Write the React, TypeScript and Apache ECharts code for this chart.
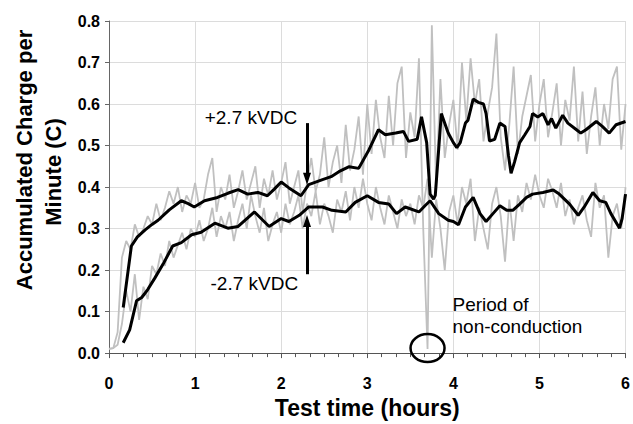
import React, { useEffect, useRef } from "react";
import * as echarts from "echarts";

const FONT = "'Liberation Sans', Arial, Helvetica, sans-serif";

// axis ticks
const X_TICKS = [0, 1, 2, 3, 4, 5, 6];
const Y_TICKS = [0, 0.1, 0.2, 0.3, 0.4, 0.5, 0.6, 0.7, 0.8];

// raw (gray) readings: sampled every 0.05 h (3 minutes)
const GRAY_TIME = Array.from({ length: 121 }, (_, i) => Math.round(i * 5) / 100);

const RAW_POS = [
  0.010, 0.012, 0.05, 0.23, 0.27, 0.25, 0.31, 0.28, 0.30, 0.33,
  0.31, 0.36, 0.32, 0.35, 0.39, 0.36, 0.40, 0.34, 0.38, 0.36,
  0.41, 0.35, 0.37, 0.43, 0.47, 0.34, 0.40, 0.37, 0.43, 0.35,
  0.39, 0.44, 0.37, 0.41, 0.45, 0.35, 0.42, 0.38, 0.44, 0.37,
  0.41, 0.46, 0.36, 0.40, 0.44, 0.34, 0.41, 0.47, 0.39, 0.43,
  0.52, 0.40, 0.46, 0.50, 0.41, 0.55, 0.44, 0.49, 0.57, 0.43,
  0.60, 0.48, 0.61, 0.52, 0.47, 0.62, 0.50, 0.65, 0.69, 0.47,
  0.58, 0.52, 0.71, 0.30, 0.01, 0.79, 0.40, 0.66, 0.47, 0.55,
  0.61, 0.49, 0.70, 0.56, 0.71, 0.60, 0.66, 0.51, 0.58, 0.64,
  0.77, 0.52, 0.44, 0.55, 0.69, 0.48, 0.57, 0.62, 0.67, 0.51,
  0.60, 0.66, 0.52, 0.58, 0.65, 0.50, 0.61, 0.56, 0.69, 0.51,
  0.63, 0.48, 0.57, 0.64, 0.50, 0.60, 0.54, 0.66, 0.69, 0.49,
  0.60,
];

const RAW_NEG = [
  0.010, 0.012, 0.02, 0.07, 0.15, 0.10, 0.19, 0.08, 0.16, 0.13,
  0.21, 0.19, 0.24, 0.21, 0.27, 0.23, 0.26, 0.29, 0.25, 0.30,
  0.28, 0.32, 0.27, 0.30, 0.35, 0.28, 0.33, 0.30, 0.34, 0.27,
  0.32, 0.36, 0.30, 0.38, 0.33, 0.29, 0.35, 0.27, 0.31, 0.34,
  0.29, 0.36, 0.31, 0.34, 0.38, 0.30, 0.36, 0.33, 0.39, 0.31,
  0.36, 0.33, 0.29, 0.37, 0.34, 0.39, 0.32, 0.40, 0.35, 0.42,
  0.36, 0.32, 0.40, 0.35, 0.31, 0.38, 0.34, 0.30, 0.37, 0.33,
  0.36, 0.31, 0.38, 0.35, 0.42, 0.23, 0.37, 0.30, 0.20, 0.34,
  0.38, 0.31, 0.40, 0.36, 0.42, 0.27, 0.35, 0.30, 0.25, 0.36,
  0.40, 0.33, 0.22, 0.37, 0.27, 0.38, 0.34, 0.41, 0.37, 0.43,
  0.38, 0.35, 0.42, 0.39, 0.35, 0.41, 0.33, 0.37, 0.31, 0.35,
  0.38, 0.32, 0.28, 0.41, 0.35, 0.38, 0.23, 0.33, 0.36, 0.30,
  0.40,
];

// smoothed (black) curves
const POS_T = [
  0.165, 0.26, 0.33, 0.42, 0.50, 0.57, 0.70, 0.84, 0.92, 0.99,
  1.11, 1.26, 1.38, 1.50, 1.61, 1.73, 1.84, 1.92, 2.00, 2.09,
  2.23, 2.32, 2.48, 2.58, 2.67, 2.79, 2.90, 3.02, 3.13, 3.21,
  3.33, 3.42, 3.48, 3.58, 3.63, 3.69, 3.73, 3.77, 3.79, 3.86,
  3.94, 4.00, 4.04, 4.08, 4.14, 4.17, 4.23, 4.29, 4.35, 4.38,
  4.42, 4.48, 4.54, 4.60, 4.64, 4.67, 4.71, 4.77, 4.83, 4.89,
  4.92, 4.98, 5.04, 5.10, 5.14, 5.19, 5.27, 5.33, 5.43, 5.48,
  5.54, 5.66, 5.73, 5.81, 5.89, 6.00,
];
const POS_V = [
  0.110, 0.258, 0.280, 0.297, 0.310, 0.320, 0.345, 0.367, 0.360, 0.352,
  0.367, 0.375, 0.385, 0.394, 0.383, 0.387, 0.379, 0.395, 0.412, 0.398,
  0.379, 0.406, 0.418, 0.425, 0.437, 0.449, 0.445, 0.490, 0.538, 0.526,
  0.530, 0.534, 0.510, 0.515, 0.569, 0.507, 0.383, 0.371, 0.380, 0.577,
  0.530, 0.507, 0.495, 0.507, 0.554, 0.561, 0.612, 0.604, 0.600, 0.577,
  0.511, 0.515, 0.554, 0.546, 0.476, 0.433, 0.460, 0.507, 0.526, 0.546,
  0.577, 0.569, 0.577, 0.550, 0.565, 0.542, 0.573, 0.554, 0.538, 0.530,
  0.538, 0.558, 0.546, 0.530, 0.550, 0.558,
];

const NEG_T = [
  0.165, 0.24, 0.32, 0.38, 0.45, 0.53, 0.63, 0.74, 0.84, 0.96,
  1.07, 1.23, 1.38, 1.50, 1.69, 1.86, 2.00, 2.09, 2.21, 2.32,
  2.48, 2.59, 2.75, 2.86, 3.00, 3.13, 3.25, 3.34, 3.44, 3.60,
  3.67, 3.73, 3.83, 3.94, 4.00, 4.06, 4.14, 4.23, 4.31, 4.38,
  4.46, 4.54, 4.62, 4.69, 4.77, 4.85, 4.92, 5.04, 5.16, 5.23,
  5.35, 5.45, 5.52, 5.62, 5.70, 5.77, 5.83, 5.93, 5.96, 6.00,
];
const NEG_V = [
  0.025, 0.056, 0.126, 0.134, 0.153, 0.180, 0.215, 0.258, 0.266, 0.285,
  0.291, 0.313, 0.301, 0.305, 0.340, 0.305, 0.324, 0.317, 0.332, 0.352,
  0.352, 0.344, 0.340, 0.363, 0.379, 0.363, 0.359, 0.336, 0.352, 0.340,
  0.355, 0.367, 0.336, 0.320, 0.317, 0.309, 0.352, 0.375, 0.336, 0.317,
  0.336, 0.355, 0.344, 0.344, 0.359, 0.375, 0.383, 0.387, 0.393, 0.383,
  0.359, 0.332, 0.352, 0.387, 0.367, 0.363, 0.336, 0.301, 0.324, 0.383,
];

// annotation anchors (data coordinates)
const ARROW_X = 2.3;
const POS_ARROW = [0.554, 0.42];
const NEG_ARROW = [0.19, 0.318];
const POS_LABEL = "+2.7 kVDC";
const NEG_LABEL = "-2.7 kVDC";
const NOTE_LINES = ["Period of", "non-conduction"];
const CIRCLE_AT = [3.7, 0.012];

export default function App() {
  const ref = useRef<HTMLDivElement>(null);

  useEffect(() => {
    if (!ref.current) return;
    const chart = echarts.init(ref.current, null, { renderer: "svg" });

    const gray = (vals: number[]) => GRAY_TIME.map((t, i) => [t, vals[i]]);
    const pair = (ts: number[], vs: number[]) => ts.map((t, i) => [t, vs[i]]);

    chart.setOption({
      animation: false,
      grid: { left: 109, right: 5, top: 21, bottom: 60 },
      xAxis: {
        type: "value",
        min: X_TICKS[0],
        max: X_TICKS[X_TICKS.length - 1],
        interval: 1,
        axisLine: { show: true, lineStyle: { color: "#555", width: 1 } },
        axisTick: { show: true, length: 5, lineStyle: { color: "#555" } },
        minorTick: { show: true, splitNumber: 6, length: 4, lineStyle: { color: "#555" } },
        splitLine: { show: true, lineStyle: { color: "#dcdcdc", width: 1 } },
        axisLabel: { fontFamily: FONT, fontWeight: "bold", fontSize: 16, color: "#000", margin: 22 },
        name: "Test time (hours)",
        nameLocation: "middle",
        nameGap: 33,
        nameTextStyle: { fontFamily: FONT, fontWeight: "bold", fontSize: 23, color: "#000" },
      },
      yAxis: {
        type: "value",
        min: Y_TICKS[0],
        max: Y_TICKS[Y_TICKS.length - 1],
        interval: 0.1,
        axisLine: { show: true, lineStyle: { color: "#666", width: 1 } },
        axisTick: { show: true, length: 4, lineStyle: { color: "#666" } },
        splitLine: { show: true, lineStyle: { color: "#dcdcdc", width: 1 } },
        axisLabel: {
          fontFamily: FONT,
          fontWeight: "bold",
          fontSize: 16,
          color: "#000",
          margin: 9,
          formatter: (v: number) => v.toFixed(1),
        },
      },
      series: [
        {
          type: "line",
          data: gray(RAW_POS),
          showSymbol: false,
          lineStyle: { color: "#c0c0c0", width: 1.8 },
          z: 1,
        },
        {
          type: "line",
          data: gray(RAW_NEG),
          showSymbol: false,
          lineStyle: { color: "#c0c0c0", width: 1.8 },
          z: 1,
        },
        {
          type: "line",
          data: pair(NEG_T, NEG_V),
          showSymbol: false,
          lineStyle: { color: "#000", width: 3 },
          z: 3,
        },
        {
          type: "line",
          data: pair(POS_T, POS_V),
          showSymbol: false,
          lineStyle: { color: "#000", width: 3 },
          z: 3,
          markLine: {
            silent: true,
            symbol: ["none", "triangle"],
            symbolSize: [8, 12],
            label: { show: false },
            lineStyle: { color: "#000", width: 3, type: "solid" },
            data: [
              [{ coord: [ARROW_X, POS_ARROW[0]] }, { coord: [ARROW_X, POS_ARROW[1]] }],
              [{ coord: [ARROW_X, NEG_ARROW[0]] }, { coord: [ARROW_X, NEG_ARROW[1]] }],
            ],
          },
        },
      ],
    });

    const px = (x: number, y: number) =>
      chart.convertToPixel({ xAxisIndex: 0, yAxisIndex: 0 }, [x, y]) as number[];

    const posLab = px(2.185, 0.567);
    const negLab = px(2.197, 0.167);
    const note1 = px(3.99, 0.118);
    const note2 = px(3.99, 0.063);
    const circ = px(CIRCLE_AT[0], CIRCLE_AT[1]);

    chart.setOption({
      graphic: [
        {
          type: "text",
          x: 24,
          y: 160,
          rotation: Math.PI / 2,
          style: {
            text: "Accumulated Charge per",
            font: `bold 22px ${FONT}`,
            fill: "#000",
            align: "center",
            verticalAlign: "middle",
          },
        },
        {
          type: "text",
          x: 53,
          y: 172,
          rotation: Math.PI / 2,
          style: {
            text: "Minute (C)",
            font: `bold 22px ${FONT}`,
            fill: "#000",
            align: "center",
            verticalAlign: "middle",
          },
        },
        {
          type: "text",
          x: posLab[0],
          y: posLab[1],
          style: { text: POS_LABEL, font: `19px ${FONT}`, fill: "#000", align: "right", verticalAlign: "middle" },
        },
        {
          type: "text",
          x: negLab[0],
          y: negLab[1],
          style: { text: NEG_LABEL, font: `19px ${FONT}`, fill: "#000", align: "right", verticalAlign: "middle" },
        },
        {
          type: "text",
          x: note1[0],
          y: note1[1],
          style: { text: NOTE_LINES[0], font: `19px ${FONT}`, fill: "#000", align: "left", verticalAlign: "middle" },
        },
        {
          type: "text",
          x: note2[0],
          y: note2[1],
          style: { text: NOTE_LINES[1], font: `19px ${FONT}`, fill: "#000", align: "left", verticalAlign: "middle" },
        },
        {
          type: "ellipse",
          shape: { cx: circ[0], cy: circ[1], rx: 17, ry: 14 },
          style: { fill: "none", stroke: "#000", lineWidth: 2.5 },
          z: 10,
        },
      ],
    });

    return () => chart.dispose();
  }, []);

  return (
    <div
      ref={ref}
      style={{ position: "fixed", left: 0, top: 0, width: 633, height: 424, background: "#fff" }}
    />
  );
}
